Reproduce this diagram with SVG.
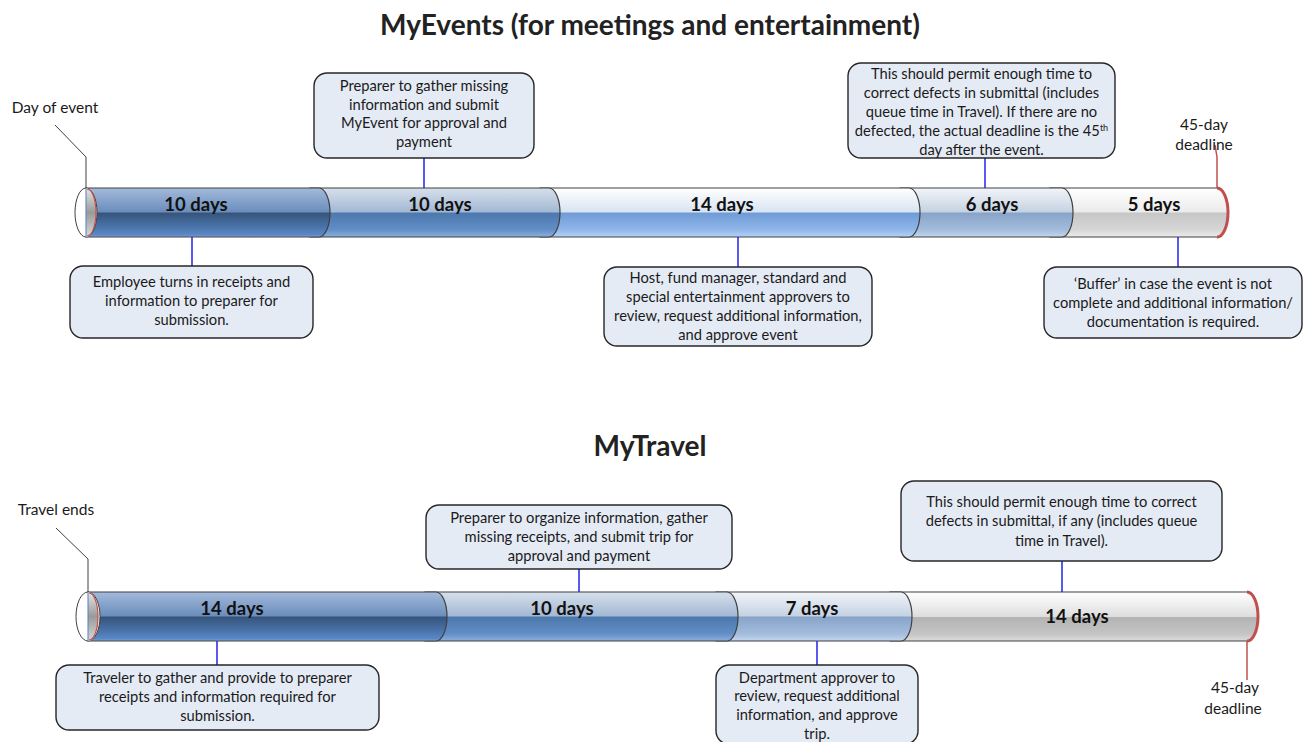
<svg xmlns="http://www.w3.org/2000/svg" width="1304" height="742" viewBox="0 0 1304 742">
<style>
.title{font-family:Lato,"Liberation Sans",sans-serif;font-weight:bold;font-size:28px;fill:#222;text-anchor:middle}
.seg{stroke:#404040;stroke-width:1.2}
.days{font-family:Lato,"Liberation Sans",sans-serif;font-weight:bold;font-size:18.5px;fill:#111;text-anchor:middle}
.box{fill:#e5ebf5;stroke:#262626;stroke-width:1.4}
.bt{font-family:Lato,"Liberation Sans",sans-serif;font-size:14.7px;fill:#1a1a1a;text-anchor:middle}
.lbl{font-family:Lato,"Liberation Sans",sans-serif;font-size:15.5px;fill:#1a1a1a;text-anchor:middle}
.conn{stroke:#2222ee;stroke-width:1.5;fill:none}
.lead{stroke:#404040;stroke-width:1;fill:none}
.red{stroke:#c0504d;fill:none}
</style>
<defs>
<linearGradient id="gDark" x1="0" y1="0" x2="0" y2="1">
<stop offset="0" stop-color="#a3badb"/><stop offset="0.49" stop-color="#6b8dbc"/><stop offset="0.51" stop-color="#36547b"/><stop offset="0.8" stop-color="#4a74ab"/><stop offset="0.96" stop-color="#5a89c8"/><stop offset="1" stop-color="#8fb0dc"/>
</linearGradient>
<linearGradient id="gMed" x1="0" y1="0" x2="0" y2="1">
<stop offset="0" stop-color="#d6e0ec"/><stop offset="0.49" stop-color="#a3b8d3"/><stop offset="0.51" stop-color="#4c78ad"/><stop offset="0.85" stop-color="#628ec6"/><stop offset="1" stop-color="#8cb0de"/>
</linearGradient>
<linearGradient id="gLight" x1="0" y1="0" x2="0" y2="1">
<stop offset="0" stop-color="#ffffff"/><stop offset="0.49" stop-color="#d8e4f3"/><stop offset="0.51" stop-color="#6f9bd6"/><stop offset="0.85" stop-color="#90b6ea"/><stop offset="1" stop-color="#b4d2f7"/>
</linearGradient>
<linearGradient id="gPale" x1="0" y1="0" x2="0" y2="1">
<stop offset="0" stop-color="#f2f5f9"/><stop offset="0.49" stop-color="#c5d2e2"/><stop offset="0.51" stop-color="#87a3c8"/><stop offset="0.85" stop-color="#a3bcdc"/><stop offset="1" stop-color="#c2d6ee"/>
</linearGradient>
<linearGradient id="gGrey" x1="0" y1="0" x2="0" y2="1">
<stop offset="0" stop-color="#ffffff"/><stop offset="0.49" stop-color="#ebebeb"/><stop offset="0.51" stop-color="#c6c6c6"/><stop offset="0.85" stop-color="#d6d6d6"/><stop offset="1" stop-color="#ececec"/>
</linearGradient>
<linearGradient id="gGrey2" x1="0" y1="0" x2="0" y2="1">
<stop offset="0" stop-color="#ffffff"/><stop offset="0.5" stop-color="#dedede"/><stop offset="0.52" stop-color="#b3b3b3"/><stop offset="0.85" stop-color="#c4c4c4"/><stop offset="1" stop-color="#dcdcdc"/>
</linearGradient>
<linearGradient id="gEnd" x1="0" y1="0" x2="0" y2="1">
<stop offset="0" stop-color="#e6e6e6"/><stop offset="0.5" stop-color="#9a9a9a"/><stop offset="1" stop-color="#d9d9d9"/>
</linearGradient>
</defs>

<rect width="1304" height="742" fill="#ffffff"/>

<g id="title-myevents"><text class="title" x="650" y="35">MyEvents (for meetings and entertainment)</text></g>
<g id="title-mytravel"><text class="title" x="650" y="456">MyTravel</text></g>

<!-- Top timeline -->
<g id="top-seg5">
<path class="seg" fill="url(#gGrey)" d="M1050,188 H1217 A11,24.5 0 0 1 1217,237 H1050 Z"/>
<path class="red" stroke-width="3" d="M1217,188 A11,24.5 0 0 1 1217,237"/>
<text class="days" x="1154" y="211">5 days</text>
</g>
<g id="top-seg4">
<path class="seg" fill="url(#gPale)" d="M900,188 H1062 A11,24.5 0 0 1 1062,237 H900 Z"/>
<text class="days" x="992" y="211">6 days</text>
</g>
<g id="top-seg3">
<path class="seg" fill="url(#gLight)" d="M540,188 H909 A11,24.5 0 0 1 909,237 H540 Z"/>
<text class="days" x="722" y="211">14 days</text>
</g>
<g id="top-seg2">
<path class="seg" fill="url(#gMed)" d="M310,188 H549 A11,24.5 0 0 1 549,237 H310 Z"/>
<text class="days" x="440" y="211">10 days</text>
</g>
<g id="top-seg1">
<path class="seg" fill="url(#gDark)" d="M86,188 H319 A11,24.5 0 0 1 319,237 H86 Z"/>
<text class="days" x="196" y="211">10 days</text>
</g>
<g id="top-leftend">
<ellipse cx="86" cy="212.5" rx="11" ry="24.5" fill="#ffffff" stroke="#404040" stroke-width="1"/>
<path d="M86,188 A10,24.5 0 0 1 86,237 Z" fill="url(#gEnd)"/>
<path class="red" stroke-width="1.2" d="M87,189 A9,23.5 0 0 1 87,236"/>
<line x1="86" y1="188" x2="86" y2="237" stroke="#4f81bd" stroke-width="1"/>
</g>

<!-- Bottom timeline -->
<g id="bot-seg4">
<path class="seg" fill="url(#gGrey2)" d="M890,592 H1247 A11,24.5 0 0 1 1247,641 H890 Z"/>
<path class="red" stroke-width="3" d="M1247,592 A11,24.5 0 0 1 1247,641"/>
<text class="days" x="1077" y="623">14 days</text>
</g>
<g id="bot-seg3">
<path class="seg" fill="url(#gPale)" d="M716,592 H901 A11,24.5 0 0 1 901,641 H716 Z"/>
<text class="days" x="812" y="615">7 days</text>
</g>
<g id="bot-seg2">
<path class="seg" fill="url(#gMed)" d="M425,592 H727 A11,24.5 0 0 1 727,641 H425 Z"/>
<text class="days" x="562" y="615">10 days</text>
</g>
<g id="bot-seg1">
<path class="seg" fill="url(#gDark)" d="M88,592 H436 A11,24.5 0 0 1 436,641 H88 Z"/>
<text class="days" x="232" y="615">14 days</text>
</g>
<g id="bot-leftend">
<ellipse cx="88" cy="616.5" rx="12" ry="24.5" fill="#ffffff" stroke="#404040" stroke-width="1"/>
<path d="M88,592 A10,24.5 0 0 1 88,641 Z" fill="url(#gEnd)"/>
<path class="red" stroke-width="1.2" d="M89,593 A9,23.5 0 0 1 89,640"/>
<line x1="88" y1="592" x2="88" y2="641" stroke="#4f81bd" stroke-width="1"/>
</g>

<!-- Connectors -->
<g id="connectors">
<path class="lead" d="M55,125 L86,157 V188"/>
<path class="red" stroke-width="1.5" d="M1215,145 L1217,157 V188"/>
<line class="conn" x1="424" y1="158" x2="424" y2="188"/>
<line class="conn" x1="985" y1="158" x2="985" y2="188"/>
<line class="conn" x1="192" y1="237" x2="192" y2="266"/>
<line class="conn" x1="738" y1="237" x2="738" y2="267"/>
<line class="conn" x1="1178" y1="237" x2="1178" y2="267"/>
<path class="lead" d="M56,528 L88,559 V592"/>
<path class="red" stroke-width="1.5" d="M1247,641 V680"/>
<line class="conn" x1="579" y1="569" x2="579" y2="592"/>
<line class="conn" x1="1062" y1="561" x2="1062" y2="592"/>
<line class="conn" x1="217" y1="641" x2="217" y2="665"/>
<line class="conn" x1="817" y1="641" x2="817" y2="665"/>
</g>

<!-- Labels -->
<g id="label-day-of-event"><text class="lbl" x="55" y="113">Day of event</text></g>
<g id="label-top-deadline"><text class="lbl" x="1204" y="130">45-day</text><text class="lbl" x="1204" y="150">deadline</text></g>
<g id="label-travel-ends"><text class="lbl" x="56" y="515">Travel ends</text></g>
<g id="label-bot-deadline"><text class="lbl" x="1235" y="693">45-day</text><text class="lbl" x="1233" y="714">deadline</text></g>

<!-- Top callouts -->
<g id="box-preparer-event">
<rect class="box" x="314" y="73" width="220" height="85" rx="13"/>
<text class="bt" x="424" y="91">Preparer to gather missing</text>
<text class="bt" x="424" y="109.5">information and submit</text>
<text class="bt" x="424" y="128">MyEvent for approval and</text>
<text class="bt" x="424" y="146.5">payment</text>
</g>
<g id="box-permit-event">
<rect class="box" x="848" y="63" width="267" height="95" rx="13"/>
<text class="bt" x="981.5" y="79">This should permit enough time to</text>
<text class="bt" x="981.5" y="98">correct defects in submittal (includes</text>
<text class="bt" x="981.5" y="117">queue time in Travel).  If there are no</text>
<text class="bt" x="981.5" y="136">defected, the actual deadline is the 45<tspan font-size="9" dy="-5">th</tspan></text>
<text class="bt" x="981.5" y="155">day after the event.</text>
</g>
<g id="box-employee">
<rect class="box" x="70" y="266" width="243" height="72" rx="13"/>
<text class="bt" x="191.5" y="287">Employee turns in receipts and</text>
<text class="bt" x="191.5" y="306">information to preparer for</text>
<text class="bt" x="191.5" y="325">submission.</text>
</g>
<g id="box-host">
<rect class="box" x="604" y="267" width="268" height="79" rx="13"/>
<text class="bt" x="738" y="283">Host, fund manager, standard and</text>
<text class="bt" x="738" y="302">special entertainment approvers to</text>
<text class="bt" x="738" y="321">review, request additional information,</text>
<text class="bt" x="738" y="340">and approve event</text>
</g>
<g id="box-buffer">
<rect class="box" x="1044" y="267" width="258" height="71" rx="13"/>
<text class="bt" x="1173" y="289">‘Buffer’ in case the event is not</text>
<text class="bt" x="1173" y="308">complete and additional information/</text>
<text class="bt" x="1173" y="327">documentation is required.</text>
</g>

<!-- Bottom callouts -->
<g id="box-preparer-travel">
<rect class="box" x="426" y="505" width="306" height="64" rx="13"/>
<text class="bt" x="579" y="523">Preparer to organize information, gather</text>
<text class="bt" x="579" y="542">missing receipts, and submit trip for</text>
<text class="bt" x="579" y="561">approval and payment</text>
</g>
<g id="box-permit-travel">
<rect class="box" x="901" y="481" width="321" height="80" rx="13"/>
<text class="bt" x="1061.5" y="507">This should permit enough time to correct</text>
<text class="bt" x="1061.5" y="526">defects in submittal, if any (includes queue</text>
<text class="bt" x="1061.5" y="546">time in Travel).</text>
</g>
<g id="box-traveler">
<rect class="box" x="56" y="665" width="323" height="65" rx="13"/>
<text class="bt" x="217.5" y="683">Traveler to gather and provide to preparer</text>
<text class="bt" x="217.5" y="702">receipts and information required for</text>
<text class="bt" x="217.5" y="721">submission.</text>
</g>
<g id="box-department">
<rect class="box" x="716" y="665" width="202" height="79" rx="13"/>
<text class="bt" x="817" y="683">Department approver to</text>
<text class="bt" x="817" y="701">review, request additional</text>
<text class="bt" x="817" y="720">information, and approve</text>
<text class="bt" x="817" y="739">trip.</text>
</g>
</svg>
